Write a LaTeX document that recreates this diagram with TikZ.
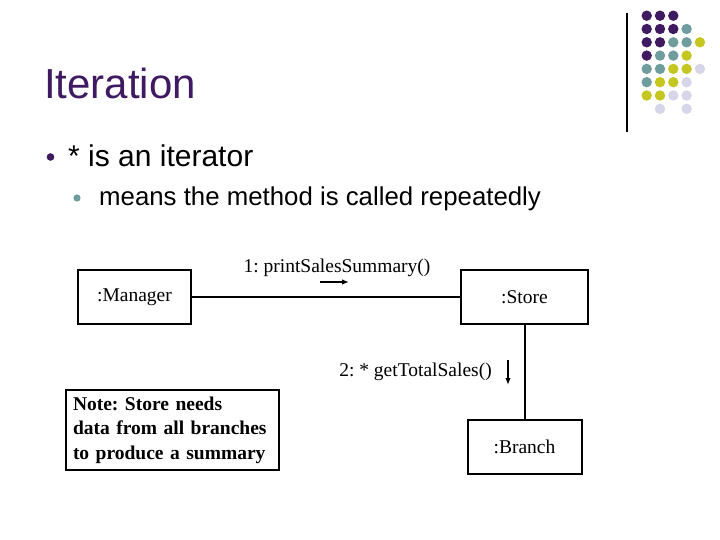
\documentclass[tikz,border=0pt]{standalone}
\usepackage{fontspec}
\setmainfont{Liberation Serif}
\newfontfamily\slidesans{Liberation Sans}
\usepackage{xcolor}
\usetikzlibrary{arrows.meta,positioning,calc}
\definecolor{slidepurple}{HTML}{3F1A60}
\definecolor{slideteal}{HTML}{6F9D9E}
\definecolor{slideyellow}{HTML}{C6C620}
\definecolor{slidelilac}{HTML}{D6D6E8}
\frenchspacing

\begin{document}
\begin{tikzpicture}[
    x=1pt, y=-1pt,
    >={Latex[length=7pt,width=5.5pt]},
    obj/.style={draw, line width=2pt, minimum height=54pt, inner sep=0pt, font=\fontsize{19.5}{23}\selectfont},
    msg/.style={inner sep=0pt, font=\fontsize{19.5}{23}\selectfont},
    notebox/.style={draw, line width=2pt, align=left, text width=199pt, inner xsep=7pt, minimum height=80pt, font=\fontsize{19.5}{24.5}\bfseries\selectfont},
    slidetext/.style={inner sep=0pt, anchor=base west}
]
\useasboundingbox[fill=white] (0,0) rectangle (720,540);

\draw[line width=1.2pt] (627,13) -- (627,132);
\foreach \c/\r/\col in {0/0/slidepurple,1/0/slidepurple,2/0/slidepurple,
    0/1/slidepurple,1/1/slidepurple,2/1/slidepurple,3/1/slideteal,
    0/2/slidepurple,1/2/slidepurple,2/2/slideteal,3/2/slideteal,4/2/slideyellow,
    0/3/slidepurple,1/3/slideteal,2/3/slideteal,3/3/slideyellow,
    0/4/slideteal,1/4/slideteal,2/4/slideyellow,3/4/slideyellow,4/4/slidelilac,
    0/5/slideteal,1/5/slideyellow,2/5/slideyellow,3/5/slidelilac,
    0/6/slideyellow,1/6/slideyellow,2/6/slidelilac,3/6/slidelilac,
    1/7/slidelilac,3/7/slidelilac} {
    \fill[\col] ({646.7+13.3*\c},{15.7+13.3*\r}) circle (5.2);
}

\node[slidetext, text=slidepurple, font=\slidesans\fontsize{42}{50}\selectfont] (title) at (44,99) {Iteration};
\fill[slidepurple] (50.5,157) circle (3.8);
\node[slidetext, font=\slidesans\fontsize{30}{36}\selectfont] (iter) at (68,167) {* is an iterator};
\fill[slideteal] (77,198) circle (3.6);
\node[slidetext, font=\slidesans\fontsize{25.8}{31}\selectfont] (means) at (99,206) {means the method is called repeatedly};

\node[obj, minimum width=113pt] (manager) at (134.5,297) {:Manager};
\node[obj, minimum width=127pt] (store) at (524.5,297) {:Store};
\node[obj, minimum width=114pt] (branch) at (524.5,447) {:Branch};
\node[notebox] (note) at (172.5,430) {Note: Store needs\\data from all branches\\to produce a summary};

\draw[line width=2pt] (manager) -- (store);
\draw[line width=2pt] (store) -- (branch);

\node[msg] (msgone) at (337,268) {1: printSalesSummary()};
\coordinate (m1a) at (320,282);
\coordinate (m1b) at (349,282);
\draw[->, line width=1.5pt] (m1a) -- (m1b);

\node[msg] (msgtwo) at (415.5,372) {2: * getTotalSales()};
\coordinate (m2a) at (508,360);
\coordinate (m2b) at (508,385);
\draw[->, line width=1.5pt] (m2a) -- (m2b);
\end{tikzpicture}
\end{document}
